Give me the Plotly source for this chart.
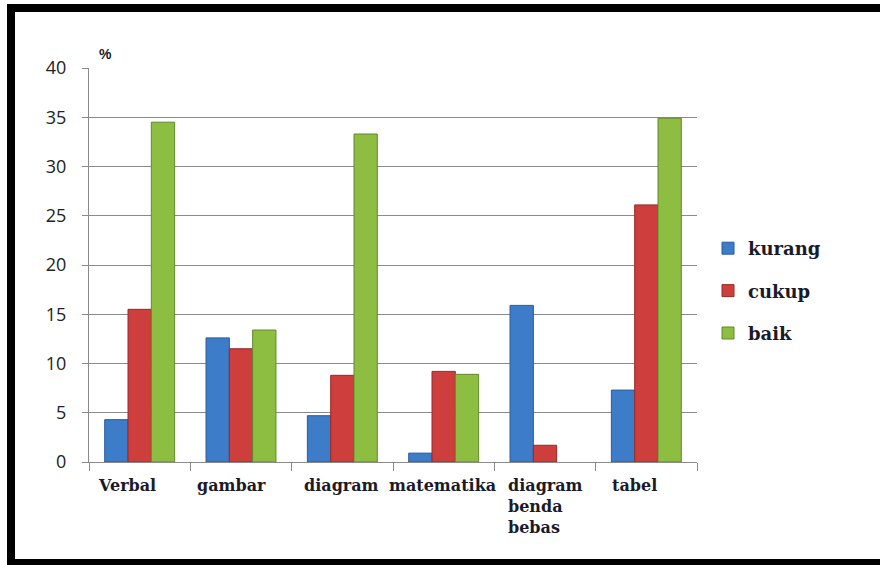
import plotly.graph_objects as go

categories = ["Verbal", "gambar", "diagram", "matematika", "diagram benda bebas", "tabel"]
tick_labels = ["Verbal", "gambar", "diagram", "matematika", "diagram<br>benda<br>bebas", "tabel"]
series_names = ["kurang", "cukup", "baik"]
kurang = [4.3, 12.6, 4.7, 0.9, 15.9, 7.3]
cukup = [15.5, 11.5, 8.8, 9.2, 1.7, 26.1]
baik = [34.5, 13.4, 33.3, 8.9, 0.0, 34.9]
y_ticks = [0, 5, 10, 15, 20, 25, 30, 35, 40]

colors = ["#3D7CC9", "#CE3E3C", "#8DBD41"]
edges = ["#2A5A98", "#962A28", "#63882C"]
label_shift = [-13, -10, -1, -1, 0, -12]

W, H = 880, 565
L, R, T, B = 89, 697, 68, 462

fig = go.Figure()
for i, (name, vals) in enumerate(zip(series_names, [kurang, cukup, baik])):
    fig.add_trace(go.Bar(
        x=categories, y=vals, name=name,
        marker=dict(color=colors[i],
                    line=dict(color=edges[i], width=[0 if v == 0 else 1 for v in vals])),
        legendgroup=name,
    ))

def px_x(px):
    return (px - L) / (R - L)

def px_y(py):
    return (B - py) / (B - T)

shapes = [
    dict(type="rect", xref="paper", yref="paper", x0=px_x(7), x1=px_x(15), y0=px_y(570), y1=px_y(4),
         fillcolor="black", line=dict(width=0), layer="above"),
    dict(type="rect", xref="paper", yref="paper", x0=px_x(7), x1=px_x(885), y0=px_y(12), y1=px_y(4),
         fillcolor="black", line=dict(width=0), layer="above"),
    dict(type="rect", xref="paper", yref="paper", x0=px_x(7), x1=px_x(885), y0=px_y(570), y1=px_y(559),
         fillcolor="black", line=dict(width=0), layer="above"),
]

annotations = []
for cat, lab, sh in zip(categories, tick_labels, label_shift):
    annotations.append(dict(
        x=cat, xref="x", y=px_y(474), yref="paper", text=lab, showarrow=False,
        xanchor="center", yanchor="top", align="left", xshift=sh,
        font=dict(family="DejaVu Serif", size=16, color="#1a1a2a", weight="bold"),
    ))
annotations.append(dict(
    x=px_x(105), xref="paper", y=px_y(54), yref="paper", text="%", showarrow=False,
    xanchor="center", yanchor="middle",
    font=dict(family="Liberation Sans", size=14, color="#1a1a2a", weight="bold"),
))

fig.update_layout(
    width=W, height=H,
    margin=dict(l=L, r=W - R, t=T, b=H - B, pad=0),
    paper_bgcolor="white", plot_bgcolor="white",
    barmode="group", bargap=0.31, bargroupgap=0,
    showlegend=True,
    legend=dict(
        x=px_x(708), y=px_y(230), xanchor="left", yanchor="top",
        font=dict(family="DejaVu Serif", size=18, color="#1a1a2a", weight="bold"),
        tracegroupgap=16, traceorder="grouped",
        itemwidth=30, bgcolor="rgba(0,0,0,0)",
    ),
    shapes=shapes,
    annotations=annotations,
)
fig.update_xaxes(
    type="category", categoryorder="array", categoryarray=categories,
    showticklabels=False, tickson="boundaries", ticks="outside", ticklen=8,
    tickcolor="#8a8a8a", showline=True, linecolor="#8a8a8a", linewidth=1,
    showgrid=False, zeroline=False,
)
fig.update_yaxes(
    range=[0, 40], tickvals=y_ticks, ticks="outside", ticklen=6, tickcolor="#8a8a8a",
    showline=True, linecolor="#8a8a8a", linewidth=1,
    showgrid=True, gridcolor="#8a8a8a", gridwidth=1, zeroline=False,
    tickfont=dict(family="Open Sans", size=18, color="#222"),
    ticklabelstandoff=12,
)

fig.write_html("out.html")
